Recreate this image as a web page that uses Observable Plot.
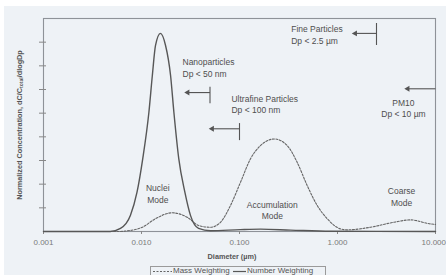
<!DOCTYPE html>
<html><head><meta charset="utf-8">
<script src="https://cdn.jsdelivr.net/npm/d3@7"></script>
<script src="https://cdn.jsdelivr.net/npm/@observablehq/plot@0.6"></script>
<style>
body{margin:0;background:#fff;font-family:"Liberation Sans",Arial,sans-serif;overflow:hidden;}
#bg{position:absolute;left:4px;top:6px;width:442px;height:269px;background:#eef2f6;}
#chart{position:absolute;left:0;top:0;}
#legend{position:absolute;left:150px;top:266px;width:176px;height:14px;border:1px solid #9a9a9a;box-sizing:border-box;}
#legend .it{position:absolute;top:0;font-size:8px;color:#555;line-height:8px;white-space:nowrap;}
#legend svg{position:absolute;top:0;}
</style></head>
<body>
<div id="bg"></div>
<div id="chart"></div>
<div id="legend"></div>
<script>
// Number weighting (solid)
const numDiam = [0.001, 0.0048, 0.0061, 0.0077, 0.0090, 0.0103, 0.0119, 0.0129, 0.0139, 0.0156, 0.0176, 0.0198, 0.0214, 0.0240, 0.0277, 0.0316, 0.0382, 0.0506, 0.102, 0.164, 0.331, 0.85, 10];
const numConc = [0, 0, 0.13, 0.68, 1.66, 3.08, 5.04, 6.59, 7.86, 8.37, 7.86, 6.59, 5.04, 3.08, 1.66, 0.68, 0.13, 0.03, 0.08, 0.10, 0.06, 0.01, 0];
// Mass weighting (dotted)
const massDiam = [0.001, 0.0061, 0.0069, 0.0102, 0.0139, 0.0206, 0.0293, 0.0384, 0.0506, 0.064, 0.0809, 0.1024, 0.1295, 0.1638, 0.2276, 0.3067, 0.3879, 0.4908, 0.6209, 0.7853, 1.073, 1.256, 2.171, 3.754, 5.558, 8.89, 10];
const massConc = [0, 0, 0.02, 0.18, 0.54, 0.79, 0.60, 0.25, 0.18, 0.39, 1.10, 2.08, 3.07, 3.63, 3.91, 3.63, 2.92, 1.94, 1.10, 0.54, 0.11, 0.07, 0.18, 0.39, 0.49, 0.32, 0.30];
const seriesNames = ["Mass Weighting", "Number Weighting"];
const xTicks = [0.001, 0.01, 0.1, 1, 10];
const yTicks = [1, 2, 3, 4, 5, 6, 7, 8];
// Size-class cutoffs and arrows
const cutoffDiam = [0.05, 0.1, 2.5, 10];
const arrowTip = [0.0296, 0.0526, 1.516, 5.21];
const arrowLevel = [5.87, 4.34, 8.37, 6.03];
const barTop = [6.1, 4.56, 8.79];
const barBottom = [5.4, 3.84, 7.86];
// Annotation labels
const labelText = ["Nanoparticles\nDp < 50 nm", "Ultrafine Particles\nDp < 100 nm", "Fine Particles\nDp < 2.5 µm", "PM10\nDp < 10 µm", "Nuclei\nMode", "Accumulation\nMode", "Coarse\nMode"];
const labelDiam = [0.0262, 0.0828, 0.337, 4.71, 0.01466, 0.216, 4.50];
const labelConc = [6.95, 5.40, 8.35, 5.23, 1.61, 0.92, 1.48];
const labelAnchor = ["start", "start", "start", "middle", "middle", "middle", "middle"];
const xTitle = "Diameter (µm)";

const numData = numDiam.map((d, i) => ({d, c: numConc[i]}));
const massData = massDiam.map((d, i) => ({d, c: massConc[i]}));
const arrows = cutoffDiam.map((d, i) => ({d, tip: arrowTip[i], y: arrowLevel[i]}));
const bars = barTop.map((t, i) => ({d: cutoffDiam[i], t, b: barBottom[i]}));
const labels = labelText.map((t, i) => ({t, d: labelDiam[i], c: labelConc[i], a: labelAnchor[i]}));

const ink = "#555";
const chart = Plot.plot({
  width: 446, height: 264,
  marginLeft: 43, marginRight: 11, marginTop: 18, marginBottom: 33,
  style: {background: "transparent", fontFamily: "Liberation Sans, Arial, sans-serif"},
  x: {type: "log", domain: [0.001, 10]},
  y: {domain: [0, 9]},
  marks: [
    Plot.frame({stroke: "#8e9298", strokeWidth: 1.1}),
    Plot.axisX({ticks: xTicks, tickFormat: d3.format(".3f"), tickSize: 3, tickPadding: 5, fontSize: 8, fill: "#7a7a7a", stroke: "#888", label: null}),
    Plot.axisY({ticks: yTicks, tickSize: 7, dx: 3, tickFormat: () => "", stroke: "#888", label: null}),
    Plot.line(massData, {x: "d", y: "c", curve: "monotone-x", stroke: "#666", strokeWidth: 1.1, strokeDasharray: "2,1.5"}),
    Plot.line(numData, {x: "d", y: "c", curve: "monotone-x", stroke: "#575757", strokeWidth: 1.4}),
    Plot.ruleX(bars, {x: "d", y1: "b", y2: "t", stroke: ink, strokeWidth: 1.1}),
    Plot.link(arrows, {x1: "d", x2: "tip", y1: "y", y2: "y", stroke: ink, strokeWidth: 1.1}),
    Plot.dot(arrows, {x: "tip", y: "y", symbol: "triangle", rotate: -90, r: 2.2, fill: ink, stroke: "none"}),
    Plot.text(labels.filter(l => l.a === "start"), {x: "d", y: "c", text: "t", textAnchor: "start", fontSize: 8.5, lineHeight: 1.4, fill: "#4e4e4e"}),
    Plot.text(labels.filter(l => l.a === "middle"), {x: "d", y: "c", text: "t", textAnchor: "middle", fontSize: 8.5, lineHeight: 1.4, fill: "#4e4e4e"})
  ]
});
document.getElementById("chart").appendChild(chart);

const svg = d3.select(chart);
// keep the last tick label inside the page
const tickTexts = svg.selectAll("[aria-label='x-axis tick label'] text").nodes();
if (tickTexts.length) {
  const last = d3.select(tickTexts[tickTexts.length - 1]);
  last.attr("text-anchor", "end").attr("dx", 10.5);
}
const yl = svg.append("text")
  .attr("transform", "translate(19,125) rotate(-90)")
  .attr("text-anchor", "middle").attr("dominant-baseline", "central")
  .attr("font-weight", "bold").attr("font-size", 7.3).attr("fill", "#555");
yl.append("tspan").text("Normalized Concentration, dC/C");
yl.append("tspan").attr("dy", 1.8).attr("font-size", 5).text("total");
yl.append("tspan").attr("dy", -1.8).text("/dlogDp");
svg.append("text").attr("x", 232).attr("y", 256)
  .attr("text-anchor", "middle").attr("dominant-baseline", "central")
  .attr("font-weight", "bold").attr("font-size", 7.3).attr("fill", "#555").text(xTitle);

// Legend
const lg = d3.select("#legend");
const s1 = lg.append("svg").attr("width", 20).attr("height", 10).style("left", "2px");
s1.append("line").attr("x1", 0).attr("x2", 19).attr("y1", 4.5).attr("y2", 4.5).attr("stroke", "#666").attr("stroke-width", 1).attr("stroke-dasharray", "2,1.5");
lg.append("div").attr("class", "it").style("left", "22px").text(seriesNames[0]);
const s2 = lg.append("svg").attr("width", 14).attr("height", 10).style("left", "82px");
s2.append("line").attr("x1", 0).attr("x2", 13).attr("y1", 4.5).attr("y2", 4.5).attr("stroke", "#575757").attr("stroke-width", 1.2);
lg.append("div").attr("class", "it").style("left", "96px").text(seriesNames[1]);
</script>
</body></html>
